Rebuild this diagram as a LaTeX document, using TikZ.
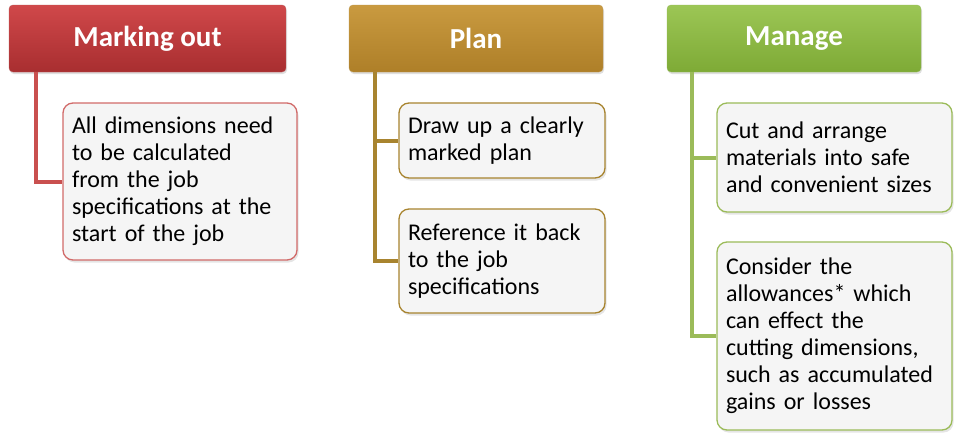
\documentclass[tikz,border=0pt]{standalone}
\usepackage{fontspec}
\setmainfont{Carlito}
\usetikzlibrary{shadows}
\definecolor{redA}{HTML}{D0484A}
\definecolor{redB}{HTML}{A82E30}
\definecolor{redL}{HTML}{C9504F}
\definecolor{goldA}{HTML}{C99A40}
\definecolor{goldB}{HTML}{AE7F28}
\definecolor{goldL}{HTML}{A8842F}
\definecolor{grnA}{HTML}{9CC655}
\definecolor{grnB}{HTML}{7EAA36}
\definecolor{grnL}{HTML}{9BBB59}
\tikzset{
  hdr/.style={rounded corners=4pt, minimum height=67pt, text=white,
    font=\fontsize{29}{32}\selectfont\bfseries, drop shadow={opacity=0.25, shadow xshift=1pt, shadow yshift=-2pt}},
  item/.style={rounded corners=10pt, line width=1.3pt, fill=white!96!black,
    font=\fontsize{24}{27}\selectfont, align=left, text=black,
    drop shadow={opacity=0.2, shadow xshift=1.5pt, shadow yshift=-2.5pt},
    inner xsep=9pt, anchor=center},
  conn/.style={line width=4pt}
}
\begin{document}
\begin{tikzpicture}[x=1pt,y=-1pt]
\useasboundingbox (0,0) rectangle (968,447);
\fill[white] (0,0) rectangle (968,447);
% headers
\node[hdr, minimum width=277pt, top color=redA, bottom color=redB, draw=redB!80!white] (mh) at (147.5,38.5) {Marking out};
\node[hdr, minimum width=254pt, top color=goldA, bottom color=goldB, draw=goldB!80!white] (ph) at (476,38.5) {Plan};
\node[hdr, minimum width=254pt, top color=grnA, bottom color=grnB, draw=grnB!80!white] (gh) at (794,38.5) {Manage};
% items
\node[item, draw=redL!85!white, minimum width=234pt, minimum height=157pt, text width=216pt] (m1) at (180,181.5)
  {All dimensions need\\to be calculated\\from the job\\specifications at the\\start of the job};
\node[item, draw=goldL, minimum width=206pt, minimum height=75pt, text width=188pt] (p1) at (502,140.5)
  {Draw up a clearly\\marked plan};
\node[item, draw=goldL, minimum width=206pt, minimum height=104pt, text width=188pt] (p2) at (502,261)
  {Reference it back\\to the job\\specifications};
\node[item, draw=grnL, minimum width=235pt, minimum height=109pt, text width=217pt] (g1) at (834.5,157.5)
  {Cut and arrange\\materials into safe\\and convenient sizes};
\node[item, draw=grnL, minimum width=235pt, minimum height=188pt, text width=217pt] (g2) at (834.5,336)
  {Consider the\\allowances* which\\can effect the\\cutting dimensions,\\such as accumulated\\gains or losses};
% connectors
\draw[conn, redL] ([xshift=27pt]mh.south west) |- (m1.west);
\draw[conn, goldL] ([xshift=26pt]ph.south west) |- (p1.west);
\draw[conn, goldL] ([xshift=26pt]ph.south west) |- (p2.west);
\draw[conn, grnL] ([xshift=25pt]gh.south west) |- (g1.west);
\draw[conn, grnL] ([xshift=25pt]gh.south west) |- (g2.west);
\end{tikzpicture}
\end{document}
